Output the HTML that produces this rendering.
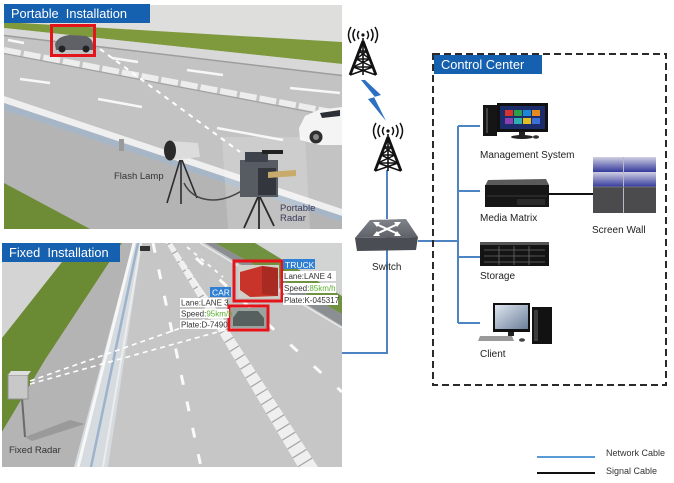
<!DOCTYPE html>
<html><head><meta charset="utf-8">
<style>
html,body{margin:0;padding:0;background:#fff;}
svg{display:block;}
text{font-family:"Liberation Sans",Arial,sans-serif;}
</style></head><body>
<svg width="674" height="483" viewBox="0 0 674 483" xmlns="http://www.w3.org/2000/svg">
<defs>
<clipPath id="c1"><rect x="4" y="5" width="338" height="224"/></clipPath>
<clipPath id="c2"><rect x="2" y="243" width="340" height="224"/></clipPath>
<clipPath id="med"><polygon points="166,243 172,243 318,467 298,467"/></clipPath>
<linearGradient id="sw" x1="0" y1="0" x2="0" y2="1"><stop offset="0" stop-color="#cfd0e2"/><stop offset="1" stop-color="#34389c"/></linearGradient>
<linearGradient id="scr" x1="0" y1="0" x2="1" y2="1"><stop offset="0" stop-color="#dfe6f0"/><stop offset="1" stop-color="#6b7f99"/></linearGradient>
<linearGradient id="swt" x1="0" y1="0" x2="0" y2="1"><stop offset="0" stop-color="#80838a"/><stop offset="1" stop-color="#5e6168"/></linearGradient>
</defs>
<rect width="674" height="483" fill="#fff"/>

<!-- ============ TOP PHOTO ============ -->
<g clip-path="url(#c1)">
<rect x="4" y="5" width="338" height="224" fill="#dededd"/>
<polygon points="4,34 342,74 342,229 4,229" fill="#c3c3c3"/>
<polygon points="4,22 342,42 342,64 4,28" fill="#7e9a3d"/>
<polygon points="4,28 342,64 342,75 4,35" fill="#d8d8d8"/>
<line x1="4" y1="35.5" x2="342" y2="75.5" stroke="#9d9d9d" stroke-width="1.5"/>
<line x1="4" y1="50" x2="342" y2="114" stroke="#ededed" stroke-width="6" stroke-dasharray="17 3"/>
<line x1="4" y1="53.5" x2="342" y2="118" stroke="#a2a2a2" stroke-width="1.2"/>
<polygon points="4,96 342,209 342,216 4,103" fill="#efefef"/>
<polygon points="4,103 342,216 342,222 4,110" fill="#a7b6c6"/>
<polygon points="4,110 342,222 342,229 4,229" fill="#b4b4b4"/>
<polygon points="4,183 90,229 4,229" fill="#6e8b36"/>
<rect x="119" y="139" width="5" height="12" fill="#9a9a9a"/>
<g stroke="#f7f7f7" stroke-width="2.5">
<line x1="8" y1="40" x2="24" y2="43"/>
<line x1="112" y1="58" x2="138" y2="62"/>
<line x1="187" y1="70" x2="223" y2="75"/>
<line x1="290" y1="88" x2="340" y2="93"/>
<line x1="20" y1="79" x2="50" y2="83"/>
<line x1="98" y1="99" x2="142" y2="107"/>
<line x1="217" y1="128" x2="283" y2="140"/>
</g>
<line x1="100" y1="49" x2="240" y2="152" stroke="#fff" stroke-width="2" stroke-dasharray="5 5"/>
<path d="M55,44 Q58,36 70,35 L86,36 Q93,39 93,45 L93,50 L56,50 Z" fill="#5f6166"/>
<circle cx="62" cy="49" r="3.5" fill="#222"/><circle cx="86" cy="49" r="3.5" fill="#222"/>
<rect x="51.5" y="25.5" width="43" height="30" fill="none" stroke="#e5141b" stroke-width="3"/>
<polygon points="299,128 305,116 318,110 342,107 342,145 320,145 300,140" fill="#f4f4f4"/>
<polygon points="320,113 340,110 340,116 322,118" fill="#2b2f36"/>
<circle cx="316" cy="137" r="6.5" fill="#2e2e2e"/><circle cx="316" cy="137" r="3" fill="#888"/>
<polygon points="222,137 305,137 310,229 228,229" fill="#ffffff" fill-opacity="0.18"/>
<g stroke="#2c2c2c" stroke-width="1.6">
<line x1="180" y1="160" x2="167" y2="203"/>
<line x1="181" y1="160" x2="181" y2="204"/>
<line x1="182" y1="160" x2="197" y2="198"/>
</g>
<polygon points="170,141 198,143 200,157 172,160" fill="#dcdcdc"/>
<ellipse cx="170" cy="150.5" rx="6" ry="10" fill="#2a2a2a"/>
<path d="M184,183 C193,202 218,206 243,190" stroke="#444" stroke-width="1.5" fill="none"/>
<g stroke="#2a2a2a" stroke-width="1.8">
<line x1="258" y1="197" x2="244" y2="228"/>
<line x1="259" y1="197" x2="259" y2="232"/>
<line x1="260" y1="197" x2="274" y2="226"/>
</g>
<rect x="240" y="160" width="38" height="37" fill="#575c63"/>
<rect x="258" y="168" width="18" height="27" fill="#33373d"/>
<rect x="245" y="152" width="23" height="10" fill="#3e424a"/>
<rect x="262" y="150" width="21" height="4" fill="#222"/>
<polygon points="268,172 296,170 296,176 268,178" fill="#c8aa6a"/>
<text x="114" y="179" font-size="9.5" fill="#333">Flash Lamp</text>
<text x="280" y="211" font-size="9.5" fill="#3a3a5a">Portable</text>
<text x="280" y="221" font-size="9.5" fill="#3a3a5a">Radar</text>
</g>
<rect x="4" y="4" width="146" height="19" fill="#1660b0"/>
<text x="11" y="18" font-size="12.8" fill="#fff" style="white-space:pre">Portable  Installation</text>

<!-- ============ BOTTOM PHOTO ============ -->
<g clip-path="url(#c2)">
<rect x="2" y="243" width="340" height="224" fill="#d4d4d4"/>
<polygon points="77,243 122,243 45,360 2,432 2,338" fill="#6a8a34"/>
<polygon points="122,243 133,243 75,467 2,467 2,432 45,360" fill="#b4b4b4"/>
<polygon points="133,243 142,243 108,467 74,467" fill="#d6dbe0"/>
<line x1="134" y1="243" x2="78" y2="467" stroke="#f7f7f7" stroke-width="3"/>
<line x1="138" y1="243" x2="91" y2="467" stroke="#9db3cb" stroke-width="2.5"/>
<line x1="141" y1="243" x2="103" y2="467" stroke="#ececec" stroke-width="2"/>
<polygon points="142,243 342,243 342,467 108,467" fill="#c6c6c6"/>
<polygon points="232,243 342,243 342,300" fill="#d2d4d4"/>
<polygon points="215,243 255,243 342,296 342,314" fill="#6f9140"/>
<polygon points="205,243 215,243 342,314 342,326" fill="#8c8f92"/>
<line x1="200" y1="243" x2="342" y2="328" stroke="#e8e8e8" stroke-width="1.5"/>
<!-- median -->
<polygon points="166,243 172,243 318,467 298,467" fill="#efefef"/>
<g clip-path="url(#med)">
<line x1="169" y1="243" x2="308" y2="467" stroke="#a8a8a8" stroke-width="24" stroke-dasharray="1.3 9"/>
</g>
<!-- lane lines -->
<line x1="180" y1="260" x2="228" y2="327" stroke="#f2f2f2" stroke-width="2"/>
<line x1="187" y1="247" x2="223" y2="277" stroke="#f7f7f7" stroke-width="2" stroke-dasharray="4 5"/>
<line x1="153" y1="243" x2="201" y2="467" stroke="#fafafa" stroke-width="3" stroke-dasharray="10 17"/>
<line x1="196" y1="258" x2="342" y2="392" stroke="#fafafa" stroke-width="3" stroke-dasharray="10 22"/>
<rect x="140" y="246" width="10" height="5" fill="#333"/>
<!-- fixed radar -->
<polygon points="25,437 70,420 85,424 32,441" fill="#8e8e8e" fill-opacity="0.7"/>
<line x1="22" y1="398" x2="25" y2="437" stroke="#6a6a6a" stroke-width="2"/>
<rect x="8" y="375" width="20" height="24" fill="#c8c8c8" stroke="#909090" stroke-width="1"/>
<polygon points="8,375 28,375 31,371 11,371" fill="#dedede"/>
<g stroke="#fff" stroke-width="1.6" stroke-dasharray="5 4">
<line x1="30" y1="381" x2="232" y2="310"/>
<line x1="30" y1="384" x2="232" y2="328"/>
</g>
<text x="9" y="453" font-size="9.5" fill="#333">Fixed Radar</text>
<!-- truck -->
<rect x="238" y="265" width="41" height="33" fill="#d0d0c8"/>
<polygon points="240,272 262,266 278,268 278,296 250,297 240,290" fill="#c9342a"/>
<polygon points="262,266 278,268 278,296 262,294" fill="#a92a22"/>
<rect x="234" y="261" width="48" height="40" fill="none" stroke="#e5141b" stroke-width="3"/>
<rect x="283" y="259" width="32" height="10" fill="#2f7fd4"/>
<text x="285" y="268" font-size="8.5" fill="#fff">TRUCK</text>
<rect x="283" y="271" width="53" height="10" fill="#fff"/>
<text x="284" y="279" font-size="8" fill="#333">Lane:LANE 4</text>
<rect x="283" y="283" width="53" height="10" fill="#fff"/>
<text x="284" y="291" font-size="8" fill="#333">Speed:<tspan fill="#5cb030">85km/h</tspan></text>
<rect x="283" y="295" width="55" height="10" fill="#fff"/>
<text x="284" y="303" font-size="8" fill="#333">Plate:K-045317</text>
<!-- car -->
<rect x="231" y="308" width="36" height="20" fill="#9aa49e"/>
<path d="M233,318 L238,311 L258,311 L264,318 L264,326 L233,326 Z" fill="#56605e"/>
<rect x="229" y="306" width="39" height="24" fill="none" stroke="#e5141b" stroke-width="3"/>
<rect x="210" y="287" width="21" height="10" fill="#2f7fd4"/>
<text x="212" y="295.5" font-size="8.5" fill="#fff">CAR</text>
<rect x="180" y="298" width="47" height="9" fill="#fff"/>
<text x="181" y="305.5" font-size="8" fill="#333">Lane:LANE 3</text>
<rect x="180" y="309" width="49" height="9" fill="#fff"/>
<text x="181" y="316.5" font-size="8" fill="#333">Speed:<tspan fill="#5cb030">95km/h</tspan></text>
<rect x="180" y="320" width="46" height="9" fill="#fff"/>
<text x="181" y="327.5" font-size="8" fill="#333">Plate:D-7490</text>
</g>
<rect x="2" y="243" width="118" height="19" fill="#1660b0"/>
<text x="9" y="257" font-size="12.8" fill="#fff" style="white-space:pre">Fixed  Installation</text>

<!-- ============ NETWORK ============ -->
<g stroke="#4e84c4" stroke-width="2" fill="none">
<line x1="387" y1="170" x2="387" y2="219"/>
<polyline points="387,249 387,353 342,353"/>
<line x1="418" y1="241" x2="458" y2="241"/>
<line x1="458" y1="126" x2="458" y2="323"/>
<line x1="458" y1="126" x2="480" y2="126"/>
<line x1="458" y1="191" x2="480" y2="191"/>
<line x1="458" y1="257" x2="480" y2="257"/>
<line x1="458" y1="323" x2="480" y2="323"/>
</g>
<line x1="540" y1="194" x2="593" y2="194" stroke="#111" stroke-width="2"/>

<!-- towers -->
<g transform="translate(363,41)" stroke="#111" fill="none">
<path d="M0,0 L-13,34 M0,0 L13,34" stroke-width="2.8"/>
<path d="M0,-3 L0,34" stroke-width="1.6"/>
<path d="M-4,10 L4,10 M-7,18 L7,18 M-10,26 L10,26 M-4,10 L7,18 M4,10 L-7,18 M-7,18 L10,26 M7,18 L-10,26 M-10,26 L13,34 M10,26 L-13,34" stroke-width="1.5"/>
<path d="M-4,-10 Q-7,-6 -4,-2 M-8,-12 Q-12,-6 -8,0 M-12,-14 Q-17,-6 -12,2 M4,-10 Q7,-6 4,-2 M8,-12 Q12,-6 8,0 M12,-14 Q17,-6 12,2" stroke-width="1.5"/>
<circle cx="0" cy="-6" r="1.6" fill="#111" stroke="none"/>
</g>
<g transform="translate(388,137)" stroke="#111" fill="none">
<path d="M0,0 L-13,34 M0,0 L13,34" stroke-width="2.8"/>
<path d="M0,-3 L0,34" stroke-width="1.6"/>
<path d="M-4,10 L4,10 M-7,18 L7,18 M-10,26 L10,26 M-4,10 L7,18 M4,10 L-7,18 M-7,18 L10,26 M7,18 L-10,26 M-10,26 L13,34 M10,26 L-13,34" stroke-width="1.5"/>
<path d="M-4,-10 Q-7,-6 -4,-2 M-8,-12 Q-12,-6 -8,0 M-12,-14 Q-17,-6 -12,2 M4,-10 Q7,-6 4,-2 M8,-12 Q12,-6 8,0 M12,-14 Q17,-6 12,2" stroke-width="1.5"/>
<circle cx="0" cy="-6" r="1.6" fill="#111" stroke="none"/>
</g>
<polygon points="361,80 365,80 381,95 374,97 386,121 368,99 375,97" fill="#2d6fc0"/>

<!-- switch -->
<polygon points="355,238 418,237 416,250 357,251" fill="#4a4d53"/>
<polygon points="355,238 370,220 406,219 418,237" fill="url(#swt)"/>
<g stroke="#fff" stroke-width="2" fill="none">
<line x1="376" y1="224" x2="398" y2="234"/>
<line x1="376" y1="234" x2="398" y2="224"/>
</g>
<g fill="#fff">
<polygon points="373,222 380,222 377,227"/>
<polygon points="401,236 394,236 397,231"/>
<polygon points="373,236 380,236 377,231"/>
<polygon points="401,222 394,222 397,227"/>
</g>
<text x="372" y="270" font-size="10" fill="#222">Switch</text>

<!-- control center -->
<rect x="433" y="54" width="233" height="331" fill="none" stroke="#2a2a2a" stroke-width="2" stroke-dasharray="7 4"/>
<rect x="434" y="55" width="108" height="19" fill="#1660b0"/>
<text x="441" y="69" font-size="12.8" fill="#fff">Control Center</text>

<!-- management system -->
<rect x="483" y="105" width="14" height="31" fill="#151515"/>
<rect x="486" y="108" width="2" height="25" fill="#444"/>
<rect x="497" y="103" width="51" height="29" fill="#111"/>
<rect x="500" y="106" width="45" height="23" fill="#1c2c6a"/>
<g>
<rect x="505" y="110" width="8" height="6" fill="#d9342b"/>
<rect x="514" y="110" width="8" height="6" fill="#2e9e48"/>
<rect x="523" y="110" width="8" height="6" fill="#1e88d8"/>
<rect x="532" y="110" width="8" height="6" fill="#e38b1e"/>
<rect x="505" y="118" width="8" height="6" fill="#8c3fb0"/>
<rect x="514" y="118" width="8" height="6" fill="#2fb0b0"/>
<rect x="523" y="118" width="8" height="6" fill="#e0c020"/>
<rect x="532" y="118" width="8" height="6" fill="#3d6fd9"/>
</g>
<rect x="519" y="132" width="6" height="4" fill="#222"/>
<ellipse cx="522" cy="137" rx="11" ry="2" fill="#222"/>
<ellipse cx="536" cy="137" rx="3" ry="1.8" fill="#333"/>
<text x="480" y="158" font-size="10" fill="#222">Management System</text>

<!-- media matrix -->
<polygon points="488,180 546,179 549,185 485,186" fill="#5a5a5a"/>
<rect x="485" y="185" width="64" height="22" fill="#161616"/>
<line x1="487" y1="196" x2="547" y2="196" stroke="#3a3a3a" stroke-width="1"/>
<rect x="517" y="199" width="28" height="6" fill="#2a2a2a"/>
<text x="480" y="221" font-size="10" fill="#222">Media Matrix</text>

<!-- screen wall -->
<rect x="593" y="157" width="63" height="15" fill="url(#sw)"/>
<rect x="593" y="172" width="63" height="15" fill="url(#sw)"/>
<rect x="593" y="187" width="63" height="26" fill="#4b4b4e"/>
<line x1="623.5" y1="157" x2="623.5" y2="213" stroke="#b8b8c8" stroke-width="1"/>
<line x1="593" y1="187" x2="656" y2="187" stroke="#777" stroke-width="1"/>
<text x="592" y="233" font-size="10" fill="#222">Screen Wall</text>

<!-- storage -->
<rect x="480" y="242" width="69" height="24" fill="#141414"/>
<rect x="480" y="242" width="69" height="3" fill="#555"/>
<g stroke="#6a6a6a" stroke-width="0.8">
<line x1="484" y1="250" x2="545" y2="250"/>
<line x1="484" y1="256" x2="545" y2="256"/>
<line x1="484" y1="262" x2="545" y2="262"/>
<line x1="499" y1="246" x2="499" y2="265"/>
<line x1="514" y1="246" x2="514" y2="265"/>
<line x1="529" y1="246" x2="529" y2="265"/>
</g>
<text x="480" y="279" font-size="10" fill="#222">Storage</text>

<!-- client -->
<rect x="493" y="303" width="37" height="29" fill="#111"/>
<rect x="495" y="305" width="33" height="24" fill="url(#scr)"/>
<rect x="508" y="332" width="6" height="4" fill="#222"/>
<polygon points="480,336 512,336 514,341 478,341" fill="#9a9a9a"/>
<ellipse cx="522" cy="340" rx="3" ry="1.8" fill="#444"/>
<rect x="532" y="307" width="20" height="37" fill="#121212"/>
<rect x="534" y="310" width="4" height="31" fill="#3c3c3c"/>
<text x="480" y="357" font-size="10" fill="#222">Client</text>

<!-- legend -->
<line x1="537" y1="457" x2="595" y2="457" stroke="#5b9bd5" stroke-width="2"/>
<line x1="537" y1="473" x2="595" y2="473" stroke="#111" stroke-width="2"/>
<text x="606" y="456" font-size="9" fill="#333">Network Cable</text>
<text x="606" y="474" font-size="9" fill="#333">Signal Cable</text>
</svg>
</body></html>
